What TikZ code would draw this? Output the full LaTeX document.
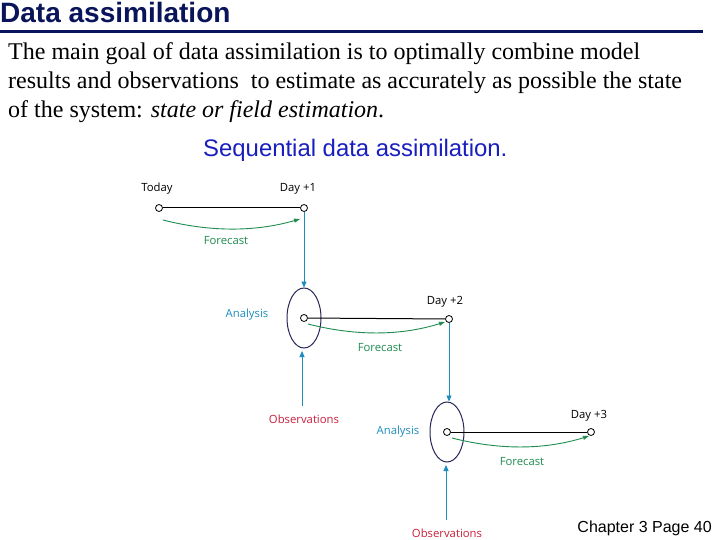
\documentclass[tikz,border=0pt]{standalone}
\usepackage{fontspec}
\setmainfont{Liberation Serif}
\newfontfamily\arial{Liberation Sans}
\newfontfamily\diag{Open Sans}
\usetikzlibrary{arrows.meta,shapes.geometric}
\definecolor{navy}{RGB}{10,20,90}
\definecolor{dblue}{RGB}{30,140,190}
\definecolor{lblue}{RGB}{25,30,190}
\definecolor{dred}{RGB}{200,30,60}
\definecolor{dgreen}{RGB}{30,140,80}
\definecolor{ellc}{RGB}{40,40,90}
\tikzset{
  dot/.style={circle,draw=black,fill=white,line width=0.8pt,inner sep=0pt,minimum size=7pt},
  lbl/.style={font=\diag\fontsize{11.3}{13}\selectfont,inner sep=0pt},
  body/.style={font=\fontsize{24}{28}\selectfont,anchor=base west,inner sep=0pt},
  tl/.style={black,line width=1pt},
  vl/.style={dblue,line width=0.9pt,-{Triangle[length=6pt,width=5pt]}},
  fc/.style={dgreen,line width=0.9pt,-{Triangle[length=6pt,width=4pt]}},
  ell/.style={ellipse,draw=ellc,line width=1pt,minimum width=34pt,minimum height=60pt,inner sep=0pt}
}
\begin{document}
\begin{tikzpicture}[x=1pt,y=-1pt]
\useasboundingbox[fill=white] (0,0) rectangle (720,540);
% title
\node[font=\arial\bfseries\fontsize{28}{30}\selectfont,text=navy,anchor=base west,inner sep=0pt] (title) at (0,23) {Data assimilation};
\draw[navy,line width=3pt] (0,32) -- (703,32);
% body
\node[body] (b1) at (8,60) {The main goal of data assimilation is to optimally combine model};
\node[body] (b2) at (8,89) {results and observations\ \ to estimate as accurately as possible the state};
\node[body] (b3) at (8,118) {of the system: \textit{state or field estimation}.};
\node[font=\arial\fontsize{23.9}{26}\selectfont,text=lblue,anchor=base west,inner sep=0pt] (seq) at (203,157) {Sequential data assimilation.};
% ellipses
\node[ell] (e1) at (304,318) {};
\node[ell] (e2) at (447,432) {};
% dots
\node[dot] (t0) at (159,208) {};
\node[dot] (t1) at (304,208) {};
\node[dot] (a1) at (304,318) {};
\node[dot] (t2) at (449,319) {};
\node[dot] (a2) at (447,432) {};
\node[dot] (t3) at (591,432) {};
% time lines
\draw[tl] (t0) -- (t1);
\draw[tl] (a1) -- (t2);
\draw[tl] (a2) -- (t3);
% labels
\node[lbl] (lt0) at (157,189) {Today};
\node[lbl] (lt1) at (298,189) {Day +1};
\node[lbl] (lt2) at (445,302) {Day +2};
\node[lbl] (lt3) at (589,416) {Day +3};
\node[lbl,text=dblue] (la1) at (247,315) {Analysis};
\node[lbl,text=dblue] (la2) at (398,432) {Analysis};
\node[lbl,text=dgreen] (lf1) at (226,241) {Forecast};
\node[lbl,text=dgreen] (lf2) at (380,348) {Forecast};
\node[lbl,text=dgreen] (lf3) at (522,462) {Forecast};
\node[lbl,text=dred] (o1) at (304,419) {Observations};
\node[lbl,text=dred] (o2) at (447,533) {Observations};
% forecast arrows
\coordinate (f1s) at (163,220); \coordinate (f1e) at (300,219);
\coordinate (f2s) at (308,324); \coordinate (f2e) at (445,322);
\coordinate (f3s) at (452,438); \coordinate (f3e) at (589,436);
\draw[fc] (f1s) .. controls (210,232) and (255,232) .. (f1e);
\draw[fc] (f2s) .. controls (355,336) and (400,336) .. (f2e);
\draw[fc] (f3s) .. controls (499,450) and (544,450) .. (f3e);
% vertical arrows
\draw[vl] (t1) -- (e1.north);
\draw[vl] (t2) -- (t2 |- e2.north);
\coordinate (o1t) at (302,406);
\draw[vl] (o1t) -- (302,351);
\coordinate (o2t) at (446,520);
\draw[vl] (o2t) -- (446,465);
% footer
\node[font=\arial\fontsize{16}{18}\selectfont,anchor=base east,inner sep=0pt] (foot) at (712,532) {Chapter 3 Page 40};
\end{tikzpicture}
\end{document}
